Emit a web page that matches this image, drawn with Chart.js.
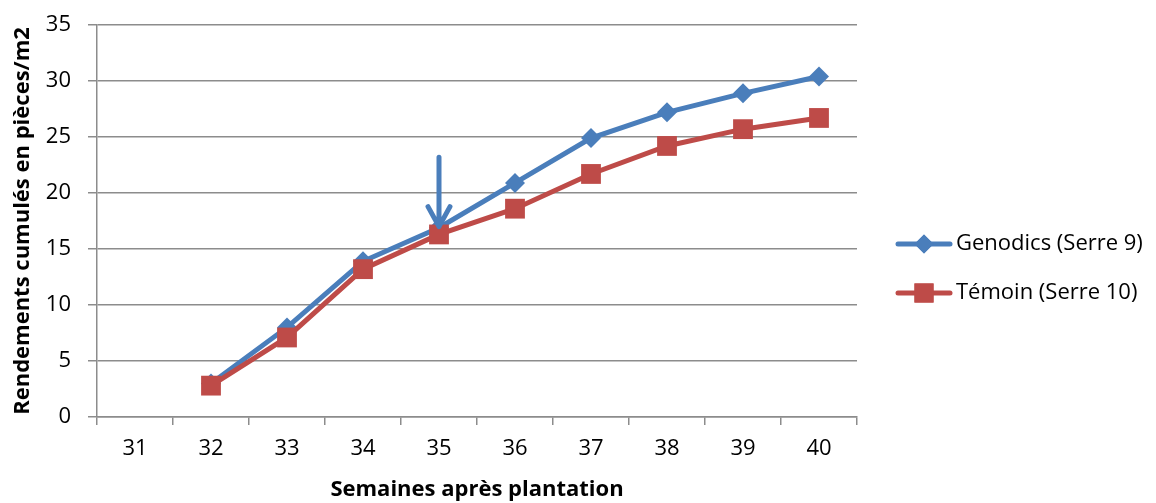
<!DOCTYPE html>
<html>
<head>
<meta charset="utf-8">
<script src="https://cdn.jsdelivr.net/npm/chart.js@4"></script>
<style>
html,body{margin:0;padding:0;background:#fff;}
#wrap{width:1156px;height:503px;position:relative;}
</style>
</head>
<body>
<div id="wrap"><canvas id="c" width="1156" height="503"></canvas></div>
<script>
const weeks = ['31','32','33','34','35','36','37','38','39','40'];
const genodics = [null, 3.0, 8.0, 13.9, 16.9, 20.9, 24.9, 27.2, 28.9, 30.4];
const temoin   = [null, 2.8, 7.1, 13.2, 16.3, 18.6, 21.7, 24.2, 25.7, 26.7];
const seriesNames = ['Genodics (Serre 9)', 'Témoin (Serre 10)'];
const arrowWeek = '35';
const arrowFrom = 23.2;
const arrowTo = 17.0;

const BLUE = '#4A7EBB';
const RED = '#BE4B48';
const GRID = '#8C8C8C';
const FONT = "'Open Sans', 'Liberation Sans', sans-serif";

const arrowPlugin = {
  id: 'arrow',
  afterDatasetsDraw(chart) {
    const {ctx, scales:{x, y}} = chart;
    const px = x.getPixelForValue(weeks.indexOf(arrowWeek));
    const y0 = y.getPixelForValue(arrowFrom);
    const y1 = y.getPixelForValue(arrowTo);
    ctx.save();
    ctx.strokeStyle = BLUE;
    ctx.lineWidth = 5;
    ctx.lineCap = 'round';
    ctx.lineJoin = 'round';
    ctx.beginPath();
    ctx.moveTo(px, y0);
    ctx.lineTo(px, y1);
    ctx.moveTo(px - 11, y1 - 20);
    ctx.lineTo(px, y1);
    ctx.lineTo(px + 11, y1 - 20);
    ctx.stroke();
    ctx.restore();
  }
};

const legendPlugin = {
  id: 'customLegend',
  afterDraw(chart) {
    const {ctx} = chart;
    const items = [
      {name: seriesNames[0], color: BLUE, style: 'rectRot', r: 9.5, y: 244},
      {name: seriesNames[1], color: RED, style: 'rect', r: 13.5, y: 293}
    ];
    ctx.save();
    items.forEach(it => {
      ctx.strokeStyle = it.color;
      ctx.lineWidth = 5;
      ctx.lineCap = 'round';
      ctx.beginPath();
      ctx.moveTo(898, it.y);
      ctx.lineTo(950, it.y);
      ctx.stroke();
      ctx.fillStyle = it.color;
      Chart.helpers.drawPoint(ctx, {pointStyle: it.style, radius: it.r, borderWidth: 0}, 924, it.y);
      ctx.fill();
      ctx.fillStyle = '#000';
      ctx.font = "22px " + FONT;
      ctx.textBaseline = 'middle';
      ctx.textAlign = 'left';
      ctx.fillText(it.name, 956, it.y);
    });
    ctx.restore();
  }
};

new Chart(document.getElementById('c'), {
  type: 'line',
  data: {
    labels: weeks,
    datasets: [
      {
        label: seriesNames[0], data: genodics, borderColor: BLUE, backgroundColor: BLUE,
        borderWidth: 5, pointStyle: 'rectRot', pointRadius: 10, pointBorderWidth: 0,
        tension: 0, order: 1
      },
      {
        label: seriesNames[1], data: temoin, borderColor: RED, backgroundColor: RED,
        borderWidth: 5, pointStyle: 'rect', pointRadius: 14, pointBorderWidth: 0,
        tension: 0, order: 0
      }
    ]
  },
  options: {
    responsive: false,
    animation: false,
    devicePixelRatio: 1,
    layout: {padding: {left: 0, right: 299, top: 25, bottom: 0}},
    plugins: {legend: {display: false}, tooltip: {enabled: false}},
    scales: {
      x: {
        offset: true,
        grid: {offset: true, drawOnChartArea: false, drawTicks: true, tickLength: 8, color: GRID, lineWidth: 1.5},
        border: {display: true, color: GRID, width: 1.5},
        ticks: {color: '#000', font: {family: FONT, size: 22}, padding: 11, maxRotation: 0},
        title: {display: true, text: 'Semaines après plantation', color: '#000',
                font: {family: FONT, size: 22, weight: 'bold'}, padding: {top: 6, bottom: 0}},
        afterFit(s) { s.height = 86; s.paddingLeft = 0; s.paddingRight = 0; }
      },
      y: {
        min: 0, max: 35,
        ticks: {stepSize: 5, color: '#000', font: {family: FONT, size: 22}, padding: 17},
        grid: {color: GRID, lineWidth: 1.5, tickLength: 9},
        border: {display: true, color: GRID, width: 1.5},
        title: {display: true, text: 'Rendements cumulés en pièces/m2', color: '#000',
                font: {family: FONT, size: 22, weight: 'bold'}, padding: {top: 10, bottom: 4}},
        afterFit(s) { s.width = 97; s.paddingTop = 0; s.paddingBottom = 0; }
      }
    }
  },
  plugins: [arrowPlugin, legendPlugin]
});
</script>
</body>
</html>
